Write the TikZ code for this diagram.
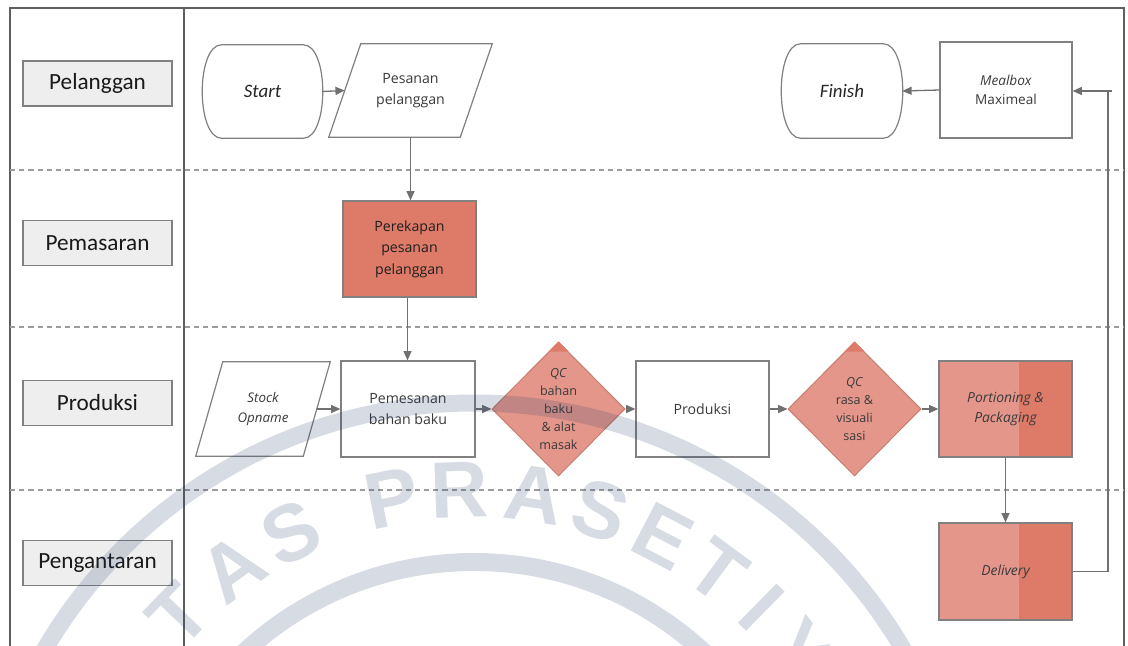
\documentclass[tikz,border=0pt]{standalone}
\usepackage{fontspec}
\setmainfont{Open Sans}
\newfontfamily\lanefont{Carlito}
\newfontfamily\markfont{Liberation Sans}
\usetikzlibrary{shapes.geometric,arrows.meta,calc}

\newcommand{\pxu}{0.75pt}

\definecolor{framegray}{HTML}{5E5E5E}
\definecolor{dashgray}{HTML}{9C9C9C}
\definecolor{edgegray}{HTML}{808080}
\definecolor{arrowgray}{HTML}{707070}
\definecolor{lanefill}{HTML}{EEEEEE}
\definecolor{salmon}{HTML}{DE7B68}
\definecolor{lightsalmon}{HTML}{E4968A}
\definecolor{inkgray}{HTML}{3A3A3A}
\definecolor{markblue}{RGB}{35,58,105}

\begin{document}
\begin{tikzpicture}[x=0.75pt,y=-0.75pt,
  lanelabel/.style={draw=edgegray, line width=1.5*\pxu, fill=lanefill,
    minimum width=149*\pxu, minimum height=45*\pxu, inner sep=0pt,
    font=\lanefont\fontsize{17.4}{20}\selectfont, text=black!90},
  term/.style={rectangle, inner sep=0pt,
    font=\lanefont\itshape\fontsize{14.2}{17}\selectfont, text=black!85},
  proc/.style={rectangle, draw=edgegray, line width=1.2*\pxu, inner sep=0pt,
    minimum width=133*\pxu, minimum height=96*\pxu, align=center,
    font=\fontsize{10.6}{16}\selectfont, text=inkgray},
  paratext/.style={rectangle, inner sep=0pt, align=center,
    font=\fontsize{10.6}{16}\selectfont, text=inkgray},
  qc/.style={diamond, fill=lightsalmon, draw=salmon!75!gray,
    line width=1*\pxu, inner sep=0pt, minimum width=133*\pxu,
    minimum height=134*\pxu},
  qctext/.style={align=center, inner sep=0pt,
    font=\fontsize{9.4}{13.5}\selectfont, text=inkgray},
  twotone/.style={fill=lightsalmon, path picture={
    \fill[salmon] ($(path picture bounding box.north east)+(-53,0)$)
      rectangle (path picture bounding box.south east);}},
  edge/.style={draw=edgegray, line width=1.2*\pxu},
  link/.style={draw=arrowgray, line width=1.3*\pxu},
  arr/.style={link, -{Triangle[length=7pt,width=6pt]}},
  lanesep/.style={draw=dashgray, line width=1.6*\pxu, dash pattern=on 3.9pt off 3pt},
  frame/.style={draw=framegray, line width=1.3*\pxu},
  seal/.style={markblue, opacity=0.18}
]
\useasboundingbox (0,0) rectangle (1128,646);
\fill[white] (0,0) rectangle (1128,646);

% swimlane frame and separators
\draw[frame] (10,662) -- (10,8) -- (1124,8) -- (1124,662);
\draw[frame] (184,8) -- (184,662);
\foreach \yy in {170,327,490}
  \draw[lanesep] (10,\yy) -- (1124,\yy);

% lane titles
\node[lanelabel] (lane1) at (97.5,83.5) {Pelanggan};
\node[lanelabel] (lane2) at (97.5,243) {Pemasaran};
\node[lanelabel] (lane3) at (97.5,403) {Produksi};
\node[lanelabel] (lane4) at (97.5,563) {Pengantaran};

% Pelanggan
\node[term, minimum width=119*\pxu, minimum height=93*\pxu] (start) at (262.5,91.5) {Start};
\draw[edge] ($(start.north west)+(19,0)$) -- ($(start.north east)+(-19,0)$)
  .. controls ($(start.north east)+(7,0)$) and ($(start.south east)+(7,0)$) .. ($(start.south east)+(-19,0)$)
  -- ($(start.south west)+(19,0)$)
  .. controls ($(start.south west)+(-7,0)$) and ($(start.north west)+(-7,0)$) .. cycle;
\node[paratext, minimum width=131*\pxu, minimum height=93*\pxu] (pesan) at (410.5,90.5) {Pesanan\\pelanggan};
\draw[edge] ($(pesan.north west)+(16,0)$) -- ($(pesan.north east)+(16,0)$)
  -- ($(pesan.south east)+(-16,0)$) -- ($(pesan.south west)+(-16,0)$) -- cycle;
\node[term, minimum width=120*\pxu, minimum height=94*\pxu] (finish) at (842,91) {Finish};
\draw[edge] ($(finish.north west)+(19,0)$) -- ($(finish.north east)+(-19,0)$)
  .. controls ($(finish.north east)+(7,0)$) and ($(finish.south east)+(7,0)$) .. ($(finish.south east)+(-19,0)$)
  -- ($(finish.south west)+(19,0)$)
  .. controls ($(finish.south west)+(-7,0)$) and ($(finish.north west)+(-7,0)$) .. cycle;
\node[proc, minimum width=132*\pxu, font=\fontsize{10.2}{14.2}\selectfont] (meal) at (1006,90) {\textit{Mealbox}\\Maximeal};

% Pemasaran
\node[proc, fill=salmon, text=black!88] (rekap) at (409.5,249) {Perekapan\\pesanan\\pelanggan};

% Produksi
\node[paratext, minimum width=107*\pxu, minimum height=94*\pxu,
  font=\itshape\fontsize{10}{15}\selectfont] (stock) at (263,409) {Stock\\Opname};
\draw[edge] ($(stock.north west)+(13.5,0)$) -- ($(stock.north east)+(13.5,0)$)
  -- ($(stock.south east)+(-13.5,0)$) -- ($(stock.south west)+(-13.5,0)$) -- cycle;
\node[proc, minimum width=134*\pxu] (pemes) at (408,409) {Pemesanan\\bahan baku};
\node[qc] (q1) at (558.5,409) {};
\fill[salmon] (q1.north) -- ++(-10,10) -- ++(20,0) -- cycle;
\node[qctext] (q1t) at (q1) {\textit{QC}\\bahan\\baku\\\& alat\\masak};
\node[proc] (prod) at (702.5,409) {Produksi};
\node[qc] (q2) at (854.5,409) {};
\fill[salmon] (q2.north) -- ++(-10,10) -- ++(20,0) -- cycle;
\node[qctext] (q2t) at (q2) {\textit{QC}\\rasa \&\\visuali\\sasi};
\node[proc, twotone, font=\itshape\fontsize{10.4}{14.4}\selectfont] (port) at (1005.5,409) {Portioning \&\\Packaging};

% Pengantaran
\node[proc, twotone, minimum height=97*\pxu, font=\itshape\fontsize{10.4}{14.4}\selectfont] (deliv) at (1005.5,571.5) {Delivery};
\coordinate (ret) at (1112,91);

% connectors
\draw[arr] (start.east) -- (pesan.west);
\draw[arr] (pesan.south) -- (pesan.south |- rekap.north);
\draw[arr] ([xshift=-1.5pt]rekap.south) -- ([xshift=-1.5pt]rekap.south |- pemes.north);
\draw[arr] (stock.east) -- (pemes.west);
\draw[arr] (pemes.east) -- (q1.west);
\draw[arr] (q1.east) -- (prod.west);
\draw[arr] (prod.east) -- (q2.west);
\draw[arr] (q2.east) -- (port.west);
\draw[arr] (port.south) -- (deliv.north);
\draw[link] (deliv.east) -| ($(ret)+(-4,0)$);
\draw[arr] (ret) -- (meal.east |- ret);
\draw[arr] (meal.west) -- (finish.east);

% university seal watermark
\begin{scope}
  \clip (0,0) rectangle (1128,646);
  \coordinate (sealc) at (474,900);
  \draw[seal, line width=17*\pxu] (sealc) circle [radius=372.75pt];
  \draw[seal, line width=18*\pxu] (sealc) circle [radius=253.5pt];
  \foreach \ang/\ch in {136/T,126/A,116.5/S,101.5/P,92/R,81.5/A,72/S,62.5/E,53.5/T,45.5/I,37.5/Y}
    \node[seal, text=markblue, rotate=\ang-90, inner sep=0pt,
      font=\markfont\bfseries\fontsize{60}{60}\selectfont]
      at ($(sealc)+(\ang:307.5pt)$) {\ch};
\end{scope}
\end{tikzpicture}
\end{document}
